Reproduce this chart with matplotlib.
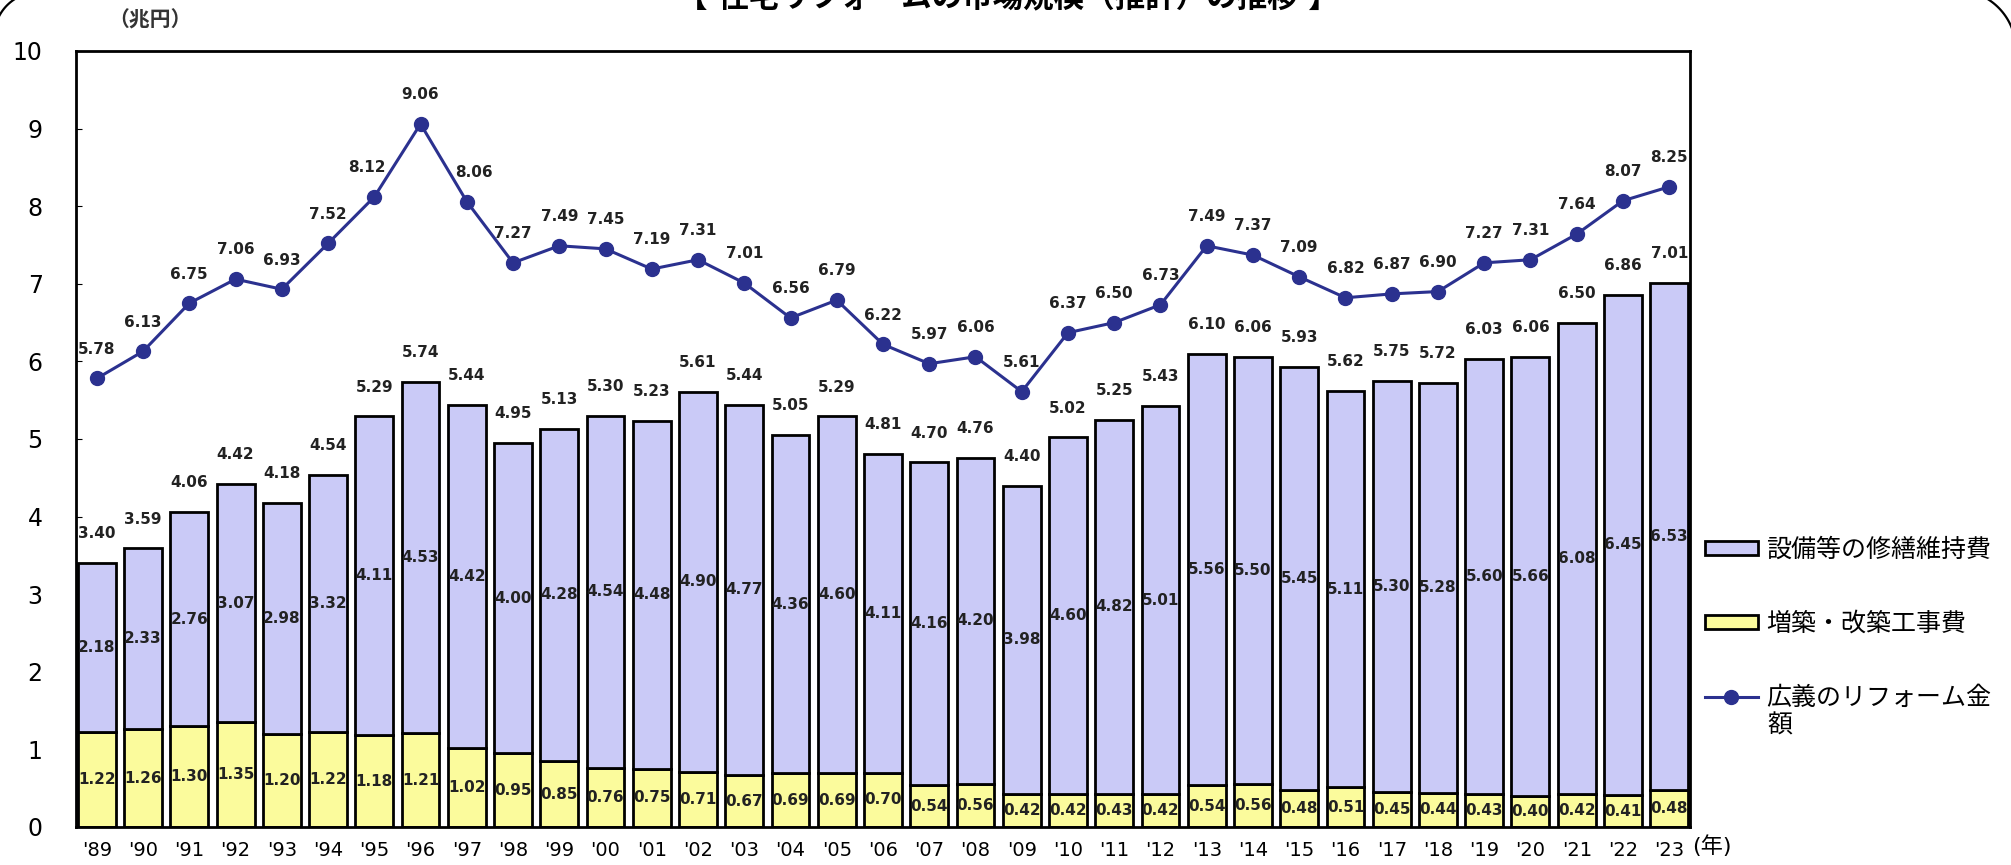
import matplotlib
matplotlib.use('Agg')
import matplotlib.pyplot as plt
import numpy as np
from matplotlib.patches import Patch
from matplotlib.lines import Line2D

plt.rcParams['font.family'] = ['DejaVu Sans', 'Noto Sans CJK JP']

years = ["'89", "'90", "'91", "'92", "'93", "'94", "'95", "'96", "'97", "'98",
         "'99", "'00", "'01", "'02", "'03", "'04", "'05", "'06", "'07", "'08",
         "'09", "'10", "'11", "'12", "'13", "'14", "'15", "'16", "'17", "'18",
         "'19", "'20", "'21", "'22", "'23"]
# 増築・改築工事費
extension = [1.22, 1.26, 1.30, 1.35, 1.20, 1.22, 1.18, 1.21, 1.02, 0.95,
             0.85, 0.76, 0.75, 0.71, 0.67, 0.69, 0.69, 0.70, 0.54, 0.56,
             0.42, 0.42, 0.43, 0.42, 0.54, 0.56, 0.48, 0.51, 0.45, 0.44,
             0.43, 0.40, 0.42, 0.41, 0.48]
# 設備等の修繕維持費
repair = [2.18, 2.33, 2.76, 3.07, 2.98, 3.32, 4.11, 4.53, 4.42, 4.00,
          4.28, 4.54, 4.48, 4.90, 4.77, 4.36, 4.60, 4.11, 4.16, 4.20,
          3.98, 4.60, 4.82, 5.01, 5.56, 5.50, 5.45, 5.11, 5.30, 5.28,
          5.60, 5.66, 6.08, 6.45, 6.53]
# 狭義の合計 (bar labels)
total = [3.40, 3.59, 4.06, 4.42, 4.18, 4.54, 5.29, 5.74, 5.44, 4.95,
         5.13, 5.30, 5.23, 5.61, 5.44, 5.05, 5.29, 4.81, 4.70, 4.76,
         4.40, 5.02, 5.25, 5.43, 6.10, 6.06, 5.93, 5.62, 5.75, 5.72,
         6.03, 6.06, 6.50, 6.86, 7.01]
# 広義のリフォーム金額
broad = [5.78, 6.13, 6.75, 7.06, 6.93, 7.52, 8.12, 9.06, 8.06, 7.27,
         7.49, 7.45, 7.19, 7.31, 7.01, 6.56, 6.79, 6.22, 5.97, 6.06,
         5.61, 6.37, 6.50, 6.73, 7.49, 7.37, 7.09, 6.82, 6.87, 6.90,
         7.27, 7.31, 7.64, 8.07, 8.25]

c_repair = '#cacaf7'
c_ext = '#fbfb9c'
c_line = '#2b318f'

W, H = 2011, 865
fig = plt.figure(figsize=(W / 100, H / 100), dpi=100)
ax = fig.add_axes([76 / W, 1 - 827 / H, (1690 - 76) / W, (827 - 51) / H])

x = list(range(len(years)))
ax.bar(x, extension, width=0.82, color=c_ext, edgecolor='black', linewidth=2.0, zorder=2)
ax.bar(x, repair, width=0.82, bottom=extension, color=c_repair,
       edgecolor='black', linewidth=2.0, zorder=2)
ax.plot(x, broad, color=c_line, linewidth=2.2, marker='o', markersize=10,
        markerfacecolor=c_line, markeredgecolor=c_line, zorder=4)

lab = dict(fontsize=11, fontweight='bold', color='#222222', ha='center', va='center')
for i in x:
    ax.text(i, extension[i] / 2, f'{extension[i]:.2f}', zorder=5, **lab)
    ax.text(i, extension[i] + repair[i] / 2, f'{repair[i]:.2f}', zorder=5, **lab)
    ax.annotate(f'{total[i]:.2f}', (i, total[i]), xytext=(0, 21),
                textcoords='offset points', **lab)
    dx = {6: -5, 8: 5}.get(i, 0)
    ax.annotate(f'{broad[i]:.2f}', (i, broad[i]), xytext=(dx, 21),
                textcoords='offset points', **lab)

ax.set_xlim(-0.45, len(years) - 0.55)
ax.set_ylim(0, 10)
ax.set_yticks(range(0, 11))
ax.set_xticks(x)
ax.set_xticklabels(years)
ax.tick_params(axis='y', direction='in', length=4, pad=24, labelsize=17)
ax.tick_params(axis='x', length=0, pad=10, labelsize=14)
for s in ax.spines.values():
    s.set_linewidth(2.0)

fig.text(108 / W, 1 - 20 / H, '（兆円）', fontsize=15, fontweight='bold',
         color='#333333', ha='left', va='center')
fig.text(1692 / W, 1 - 846 / H, '(年)', fontsize=16, ha='left', va='center')
fig.text(1008 / W, 1 + 3 / H, '【 住宅リフォームの市場規模（推計）の推移 】',
         fontsize=22, fontweight='bold', ha='center', va='center')

handles = [Patch(facecolor=c_repair, edgecolor='black', linewidth=2.0),
           Patch(facecolor=c_ext, edgecolor='black', linewidth=2.0),
           Line2D([], [], color=c_line, linewidth=2.2, marker='o', markersize=10)]
labels = ['設備等の修繕維持費', '増築・改築工事費', '広義のリフォーム金']
fig.legend(handles, labels, loc='upper left', bbox_to_anchor=(1705 / W, 1 - 538 / H),
           frameon=False, fontsize=18, handlelength=2.1, handleheight=0.45,
           handletextpad=0.36, labelspacing=2.0, borderpad=0, borderaxespad=0)
fig.text(1767 / W, 1 - 726 / H, '額', fontsize=18, ha='left', va='center')

# rounded frame corners of the original panel
def corner(cx, cy, r, a0, a1):
    t = np.linspace(np.radians(a0), np.radians(a1), 40)
    px = cx + r * np.cos(t)
    py = cy - r * np.sin(t)
    fig.add_artist(Line2D(px / W, 1 - py / H, transform=fig.transFigure,
                          color='black', linewidth=1.6))

corner(39, 37, 45, 90, 180)
corner(1956, 50, 60, 0, 90)

fig.savefig('out.png', dpi=100)
